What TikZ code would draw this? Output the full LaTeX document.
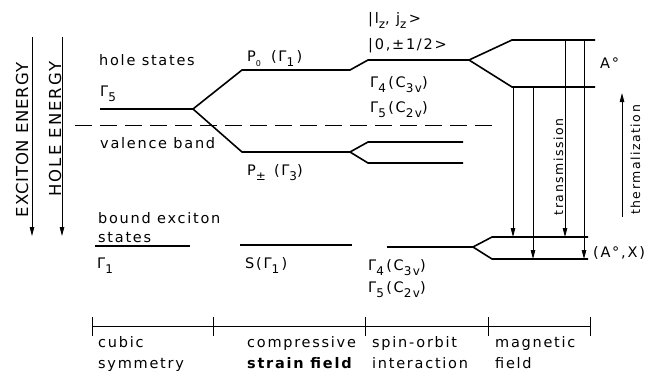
\documentclass[tikz,border=0pt]{standalone}
\usepackage{fontspec}
\setmainfont{DejaVu Sans}
\newfontfamily\lett[LetterSpace=12]{DejaVu Sans}
\newfontfamily\capsA[LetterSpace=5]{DejaVu Sans}
\newfontfamily\capsB[LetterSpace=12]{DejaVu Sans}
\newcommand\sbs[1]{\raisebox{-0.38em}{\fontsize{12}{12}\selectfont #1}}
\usetikzlibrary{arrows.meta}
\begin{document}
\begin{tikzpicture}[x=1pt,y=-1pt,
  lvl/.style={line width=1.6pt},
  arr/.style={line width=0.9pt,-{Triangle[length=9pt,width=4.5pt]}},
  scl/.style={line width=0.7pt},
  lab/.style={font=\lett\fontsize{14.5}{16}\selectfont,anchor=base west,inner sep=0pt},
  vlab/.style={font=\lett\fontsize{12.5}{14}\selectfont,rotate=90,anchor=base,inner sep=0pt}]
\useasboundingbox (0,0) rectangle (647,375);
% energy axes
\coordinate (ex1) at (32,37); \coordinate (ex2) at (32,236);
\coordinate (ho1) at (62,37); \coordinate (ho2) at (62,236);
\draw[arr] (ex1) -- (ex2);
\draw[arr] (ho1) -- (ho2);
\node[font=\capsA\fontsize{16.5}{18}\selectfont,rotate=90,anchor=base,inner sep=0pt] (exl) at (28,140) {EXCITON ENERGY};
\node[font=\capsB\fontsize{16.5}{18}\selectfont,rotate=90,anchor=base,inner sep=0pt] (hol) at (61,129) {HOLE ENERGY};
% hole levels
\coordinate (g5a) at (100,109); \coordinate (g5b) at (193,109);
\coordinate (p0a) at (242,70); \coordinate (p0b) at (350,70);
\coordinate (so1a) at (368,60); \coordinate (so1b) at (469,60);
\coordinate (mA1a) at (512,40); \coordinate (mA1b) at (595,40);
\coordinate (mA2a) at (512,87); \coordinate (mA2b) at (595,87);
\coordinate (pma) at (242,152); \coordinate (pmb) at (350,152);
\coordinate (so2a) at (368,142); \coordinate (so2b) at (463,142);
\coordinate (so3a) at (368,163); \coordinate (so3b) at (463,163);
\draw[lvl] (g5a) -- (g5b) -- (p0a) -- (p0b) -- (so1a) -- (so1b) -- (mA1a) -- (mA1b);
\draw[lvl] (so1b) -- (mA2a) -- (mA2b);
\draw[lvl] (g5b) -- (pma) -- (pmb) -- (so2a) -- (so2b);
\draw[lvl] (pmb) -- (so3a) -- (so3b);
% dashed valence band edge
\coordinate (da) at (75,125); \coordinate (db) at (497,125);
\draw[line width=0.9pt,dash pattern=on 17pt off 8pt] (da) -- (db);
% bound exciton levels
\coordinate (bxa) at (95,246); \coordinate (bxb) at (190,246);
\coordinate (sxa) at (240,245); \coordinate (sxb) at (352,245);
\coordinate (oxa) at (387,247); \coordinate (oxb) at (473,247);
\coordinate (mxa) at (492,237); \coordinate (mxb) at (588,237);
\coordinate (mya) at (492,259); \coordinate (myb) at (588,259);
\draw[lvl] (bxa) -- (bxb);
\draw[lvl] (sxa) -- (sxb);
\draw[lvl] (oxa) -- (oxb) -- (mxa) -- (mxb);
\draw[lvl] (oxb) -- (mya) -- (myb);
% transitions
\coordinate (t1s) at (513,87); \coordinate (t1e) at (513,237);
\coordinate (t2s) at (533,87); \coordinate (t2e) at (533,259);
\coordinate (t3s) at (565,40); \coordinate (t3e) at (565,237);
\coordinate (t4s) at (584,40); \coordinate (t4e) at (584,259);
\draw[arr] (t1s) -- (t1e);
\draw[arr] (t2s) -- (t2e);
\draw[arr] (t3s) -- (t3e);
\draw[arr] (t4s) -- (t4e);
\node[vlab] (trans) at (563,167) {transmission};
\coordinate (th1) at (622,217); \coordinate (th2) at (622,93);
\draw[arr] (th1) -- (th2);
\node[vlab] (therm) at (640,160) {thermalization};
% labels
\node[lab] (hs) at (99,65) {hole states};
\node[lab] (g5) at (100,96) {Γ\sbs{5}};
\node[lab] (vb) at (100,148) {valence band};
\node[lab] (p0) at (247,61) {P\sbs{\fontsize{8}{8}\selectfont 0}\hspace{10pt}(Γ\sbs{1}\,)};
\node[lab] (pm) at (247,175) {P\sbs{±}\hspace{8pt}(Γ\sbs{3})};
\node[lab] (lz) at (368,23) {|l\sbs{z}, j\sbs{z}\,>};
\node[lab] (lz0) at (368,49) {|0,±1/2>};
\node[lab] (g4a) at (370,87) {Γ\sbs{4}\,(C\sbs{3v})};
\node[lab] (g5a2) at (370,112) {Γ\sbs{5}\,(C\sbs{2v})};
\node[lab] (a0) at (600,68) {A°};
\node[lab] (ax) at (593,257) {(A°,X)};
\node[lab] (be) at (98,223) {bound exciton};
\node[lab] (bs) at (98,242) {states};
\node[lab] (g1) at (97,268) {Γ\sbs{1}};
\node[lab] (s1) at (245,268) {S(Γ\sbs{1}\,)};
\node[lab] (g4b) at (368,270) {Γ\sbs{4}\,(C\sbs{3v})};
\node[lab] (g5b2) at (368,292) {Γ\sbs{5}\,(C\sbs{2v})};
% bottom scale
\coordinate (k0) at (92,326); \coordinate (k1) at (213,326);
\coordinate (k2) at (365,326); \coordinate (k3) at (488,326);
\coordinate (k4) at (590,326);
\draw[scl] (k0) -- (k4);
\foreach \k in {k0,k1,k2,k3,k4} \draw[scl] ([yshift=-10pt]\k) -- ([yshift=9pt]\k);
\node[lab] (c1) at (98,347) {cubic};
\node[lab] (c2) at (98,368) {symmetry};
\node[lab] (d1) at (247,347) {compressive};
\node[lab,font=\lett\bfseries\fontsize{14.5}{16}\selectfont] (d2) at (247,368) {strain field};
\node[lab] (e1) at (372,347) {spin-orbit};
\node[lab] (e2) at (372,368) {interaction};
\node[lab] (f1) at (495,347) {magnetic};
\node[lab] (f2) at (495,368) {field};
\end{tikzpicture}
\end{document}
